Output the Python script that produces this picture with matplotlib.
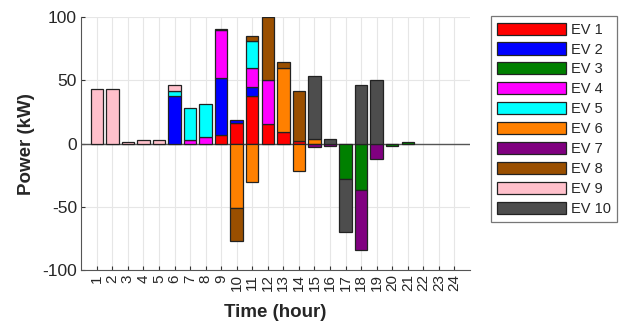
import numpy as np
import matplotlib
matplotlib.use("Agg")
import matplotlib.pyplot as plt

plt.rcParams['font.family'] = ['Liberation Sans', 'DejaVu Sans']
plt.rcParams['axes.unicode_minus'] = False

# hours 1..24
hours = np.arange(1, 25)

# power per EV (kW) for each hour
ev1 = [0, 0, 0, 0, 0, 0, 0, 0, 7, 16, 38, 15.5, 9.5, 2, 0, 0, 0, 0, 0, 0, 0, 0, 0, 0]
ev2 = [0, 0, 0, 0, 0, 38, 0, 0, 45, 2.5, 7, 0, 0, 0, 0, 0, 0, 0, 0, 0, 0, 0, 0, 0]
ev3 = [0, 0, 0, 0, 0, 0, 0, 0, 0, 0, 0, 0, 0, 0, 0, 0, -28, -37, 0, -2, 1.5, 0, 0, 0]
ev4 = [0, 0, 0, 0, 0, 0, 2.5, 5.5, 38, 0, 15, 35, 0, 0, 0, 0, 0, 0, 0, 0, 0, 0, 0, 0]
ev5 = [0, 0, 0, 0, 0, 4, 25.5, 25.5, 0, 0, 21, 0, 0, 0, 0, 0, 0, 0, 0, 0, 0, 0, 0, 0]
ev6 = [0, 0, 0, 0, 0, 0, 0, 0, 0, -51, -30.5, 0, 50, -22, 3.5, 0, 0, 0, 0, 0, 0, 0, 0, 0]
ev7 = [0, 0, 0, 0, 0, 0, 0, 0, 0, 0, 0, 0, 0, 0, -3, -2, 0, -47, -12, 0, 0, 0, 0, 0]
ev8 = [0, 0, 0, 0, 0, 0, 0, 0, 1, -26, 4.5, 50, 5, 40, 0, 0, 0, 0, 0, 0, 0, 0, 0, 0]
ev9 = [43, 43, 1, 2.5, 3, 4, 0, 0, 0, 0, 0, 0, 0, 0, 0, 0, 0, 0, 0, 0, 0, 0, 0, 0]
ev10 = [0, 0, 0, 0, 0, 0, 0, 0, 0, 0, 0, 0, 0, 0, 50, 3.5, -42, 46, 50, 0, 0, 0, 0, 0]

labels = ['EV 1', 'EV 2', 'EV 3', 'EV 4', 'EV 5', 'EV 6', 'EV 7', 'EV 8', 'EV 9', 'EV 10']
colors = ['#ff0000', '#0000ff', '#008000', '#ff00ff', '#00ffff',
          '#ff8000', '#800080', '#9a4f00', '#ffc0cb', '#4d4d4d']
series = [ev1, ev2, ev3, ev4, ev5, ev6, ev7, ev8, ev9, ev10]

fig = plt.figure(figsize=(6.2, 3.22), dpi=100)
ax = fig.add_axes([0.131, 0.1615, 0.627, 0.785])

# stack positives upward and negatives downward separately
pos_bottom = np.zeros(len(hours))
neg_bottom = np.zeros(len(hours))
for vals, lab, col in zip(series, labels, colors):
    v = np.array(vals, dtype=float)
    bottom = np.where(v >= 0, pos_bottom, neg_bottom)
    nz = v != 0
    ax.bar(hours[nz], v[nz], width=0.8, bottom=bottom[nz], color=col,
           edgecolor='#222222', linewidth=0.9, label=lab, zorder=3)
    pos_bottom += np.clip(v, 0, None)
    neg_bottom += np.clip(v, None, 0)

ax.axhline(0, color='#555555', lw=1.0, zorder=2)

ax.set_xlim(0, 25)
ax.set_ylim(-100, 100)
ax.set_xticks(hours)
ax.set_xticklabels([str(h) for h in hours], rotation=90, fontsize=11)
ax.set_yticks([-100, -50, 0, 50, 100])
ax.tick_params(axis='y', labelsize=12.5)
ax.tick_params(direction='in', length=3, color='#333333', labelcolor='#262626', pad=3)
ax.grid(True, color='#e6e6e6', lw=0.8, zorder=0)
ax.set_axisbelow(True)
for s in ['top', 'right']:
    ax.spines[s].set_visible(False)
for s in ['left', 'bottom']:
    ax.spines[s].set_color('#555555')

ax.set_ylabel('Power (kW)', fontsize=13.5, fontweight='bold', color='#262626', labelpad=5)
ax.set_xlabel('Time (hour)', fontsize=13.5, fontweight='bold', color='#262626', labelpad=9)

leg = ax.legend(loc='upper left', bbox_to_anchor=(0.792, 0.949),
                bbox_transform=fig.transFigure, fontsize=10.5,
                handlelength=4.7, handleheight=0.9, labelspacing=0.4,
                handletextpad=0.35, borderpad=0.42, borderaxespad=0,
                fancybox=False, edgecolor='#777777', framealpha=1)
leg.get_frame().set_linewidth(0.9)
for t in leg.get_texts():
    t.set_color('#262626')

fig.savefig('out.png', dpi=100)
